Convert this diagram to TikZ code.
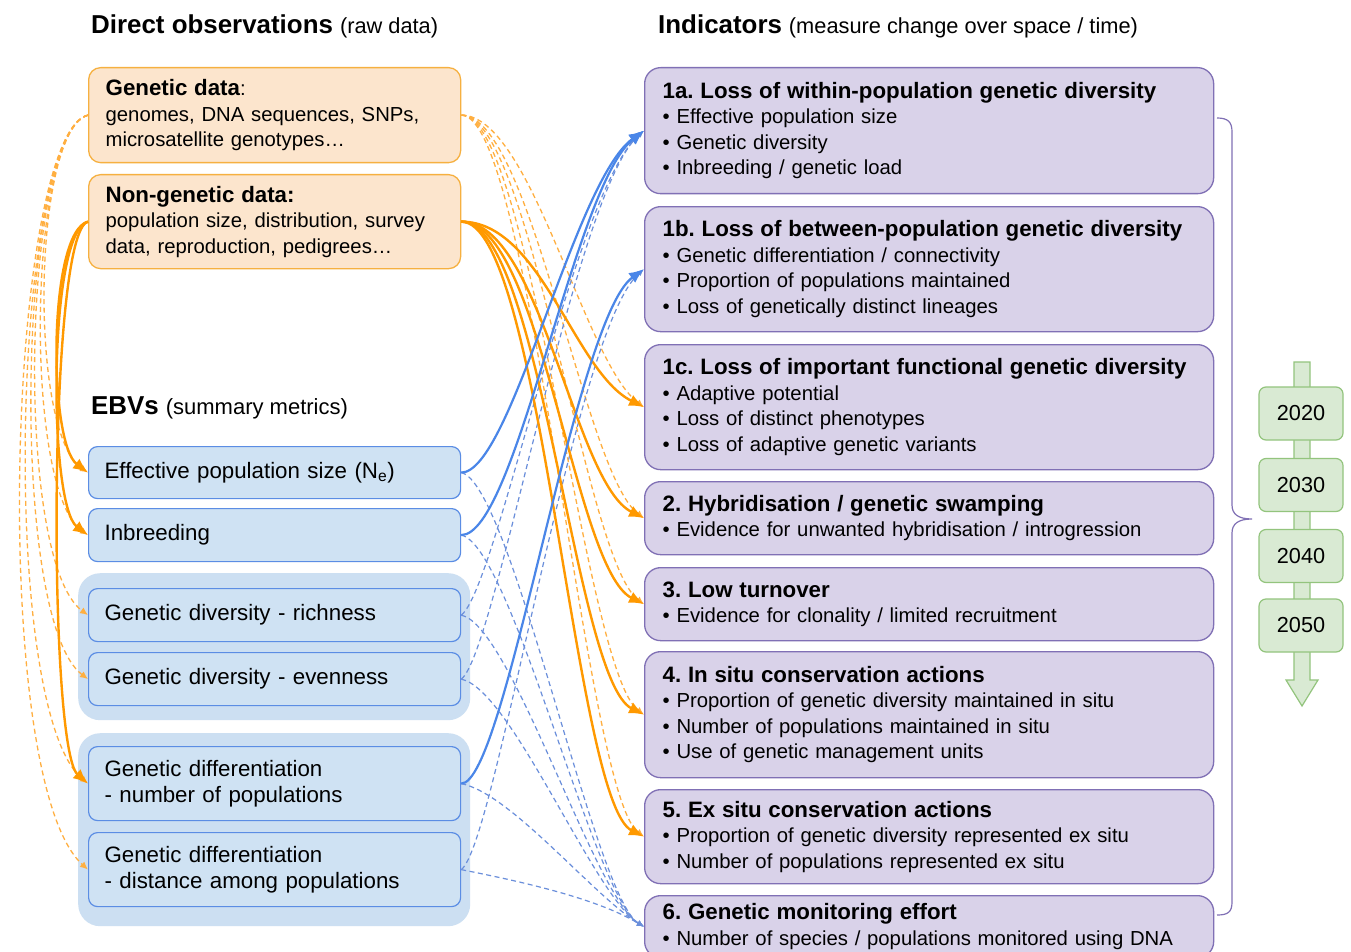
\documentclass[tikz,border=0pt]{standalone}
\usepackage{fontspec}
\setmainfont{Liberation Sans}
\usetikzlibrary{arrows.meta}
\definecolor{obsF}{HTML}{FCE5CD}
\definecolor{obsB}{HTML}{F6B040}
\definecolor{ebvF}{HTML}{CFE2F3}
\definecolor{ebvB}{HTML}{5B8DE4}
\definecolor{grpF}{HTML}{CCDFF2}
\definecolor{indF}{HTML}{D9D2E9}
\definecolor{indB}{HTML}{8070B5}
\definecolor{tlF}{HTML}{D9EAD3}
\definecolor{tlB}{HTML}{93C47D}
\definecolor{oS}{HTML}{FF9900}
\definecolor{oD}{HTML}{FFAF40}
\definecolor{bS}{HTML}{4A86E8}
\definecolor{bD}{HTML}{6B8FDB}
\newcommand\hdA[1]{{\fontsize{22.3}{25.5}\selectfont\bfseries\mbox{#1}}}
\frenchspacing
\tikzset{
 base/.style={inner ysep=0pt, anchor=north west, align=left},
 obsbox/.style={base, draw=obsB, fill=obsF, line width=1.3pt, rounded corners=12pt, minimum width=372pt, text width=338pt, inner xsep=17pt, font=\fontsize{20.3}{25.5}\selectfont},
 ebvbox/.style={base, draw=ebvB, fill=ebvF, line width=1.2pt, rounded corners=9pt, minimum width=372pt, text width=340pt, inner xsep=16pt, font=\fontsize{22.3}{26}\selectfont},
 grp/.style={anchor=north west, fill=grpF, rounded corners=22pt, inner sep=0pt, minimum width=392pt},
 indbox/.style={base, draw=indB, fill=indF, line width=1.3pt, rounded corners=16pt, minimum width=569pt, text width=533pt, inner xsep=18pt, font=\fontsize{20.3}{25.5}\selectfont},
 yearbox/.style={draw=tlB, fill=tlF, line width=1.2pt, rounded corners=7pt, minimum width=84pt, minimum height=53pt, font=\fontsize{21.7}{26}\selectfont, inner sep=0pt},
 ttl/.style={anchor=base west, inner sep=0pt},
 osolid/.style={draw=oS, line width=2.4pt, -{Latex[length=15pt,width=12pt]}},
 odash/.style={draw=oD, line width=1.3pt, dash pattern=on 5pt off 3.5pt, -{Latex[length=8pt,width=7pt]}},
 bsolid/.style={draw=bS, line width=2.2pt, -{Latex[length=15pt,width=12pt]}},
 bdash/.style={draw=bD, line width=1.2pt, dash pattern=on 5pt off 3.5pt, -{Latex[length=7pt,width=6pt]}},
}
\begin{document}
\begin{tikzpicture}[x=1pt,y=-1pt]
\fill[white] (0,0) rectangle (1351,952);
\useasboundingbox (0,0) rectangle (1351,952);

% titles
\node[ttl] (t1) at (91,34) {{\fontsize{25.9}{30}\selectfont\bfseries Direct observations}\hspace{7pt}{\fontsize{21.8}{26}\selectfont(raw data)}};
\node[ttl] (t2) at (91,414) {{\fontsize{25.9}{30}\selectfont\bfseries EBVs}\hspace{7pt}{\fontsize{22}{26}\selectfont(summary metrics)}};
\node[ttl] (t3) at (658,34) {{\fontsize{25.9}{30}\selectfont\bfseries Indicators}\hspace{7pt}{\fontsize{21.8}{26}\selectfont(measure change over space / time)}};

% observations
\node[obsbox, minimum height=95pt] (gd) at (88,67) {\hdA{Genetic data}:\\genomes, DNA sequences, SNPs,\\microsatellite genotypes…};
\node[obsbox, minimum height=94pt] (ng) at (88,174) {\hdA{Non-genetic data:}\\population size, distribution, survey\\data, reproduction, pedigrees…};

% EBV groups
\node[grp, minimum height=147pt] (g1) at (78,573) {};
\node[grp, minimum height=193pt] (g2) at (78,733) {};

% EBVs
\node[ebvbox, minimum height=52pt] (ne) at (88,446) {Effective population size (N\textsubscript{e})};
\node[ebvbox, minimum height=53pt] (inb) at (88,508) {Inbreeding};
\node[ebvbox, minimum height=53pt] (rich) at (88,588) {Genetic diversity - richness};
\node[ebvbox, minimum height=53pt] (even) at (88,652) {Genetic diversity - evenness};
\node[ebvbox, minimum height=74pt] (dnum) at (88,746) {Genetic differentiation\\- number of populations};
\node[ebvbox, minimum height=74pt] (ddist) at (88,832) {Genetic differentiation\\- distance among populations};

% indicators
\node[indbox, minimum height=126pt] (i1a) at (644,67) {\hdA{1a. Loss of within-population genetic diversity}\\• Effective population size\\• Genetic diversity\\• Inbreeding / genetic load};
\node[indbox, minimum height=125pt] (i1b) at (644,206) {\hdA{1b. Loss of between-population genetic diversity}\\• Genetic differentiation / connectivity\\• Proportion of populations maintained\\• Loss of genetically distinct lineages};
\node[indbox, minimum height=125pt] (i1c) at (644,344) {\hdA{1c. Loss of important functional genetic diversity}\\• Adaptive potential\\• Loss of distinct phenotypes\\• Loss of adaptive genetic variants};
\node[indbox, minimum height=73pt] (i2) at (644,481) {\hdA{2. Hybridisation / genetic swamping}\\• Evidence for unwanted hybridisation / introgression};
\node[indbox, minimum height=73pt] (i3) at (644,567) {\hdA{3. Low turnover}\\• Evidence for clonality / limited recruitment};
\node[indbox, minimum height=126pt] (i4) at (644,651) {\hdA{4. In situ conservation actions}\\• Proportion of genetic diversity maintained in situ\\• Number of populations maintained in situ\\• Use of genetic management units};
\node[indbox, minimum height=94pt] (i5) at (644,789) {\hdA{5. Ex situ conservation actions}\\• Proportion of genetic diversity represented ex situ\\• Number of populations represented ex situ};
\node[indbox, minimum height=62pt] (i6) at (644,895) {\hdA{6. Genetic monitoring effort}\\• Number of species / populations monitored using DNA};

% brace
\draw[indB, line width=1.2pt] (1217,118) .. controls (1228,118) and (1232,122) .. (1232,132) -- (1232,505) .. controls (1232,514) and (1238,519) .. (1252,519) .. controls (1238,519) and (1232,524) .. (1232,533) -- (1232,902) .. controls (1232,912) and (1228,915) .. (1217,915);

% timeline
\draw[tlB, fill=tlF, line width=1.2pt] (1294,362) -- (1310,362) -- (1310,680) -- (1318,680) -- (1302,706) -- (1286,680) -- (1294,680) -- cycle;
\node[yearbox] (y1) at (1301,413.5) {2020};
\node[yearbox] (y2) at (1301,485) {2030};
\node[yearbox] (y3) at (1301,556) {2040};
\node[yearbox] (y4) at (1301,625.5) {2050};

% orange dashed: genetic data
\draw[odash] (gd.west) .. controls +(-55,15) and +(-60,-40) .. (ne.west);
\draw[odash] (gd.west) .. controls +(-60,15) and +(-65,-45) .. (inb.west);
\draw[odash] (gd.west) .. controls +(-65,15) and +(-75,-55) .. (rich.west);
\draw[odash] (gd.west) .. controls +(-70,15) and +(-80,-60) .. (even.west);
\draw[odash] (gd.west) .. controls +(-75,20) and +(-90,-75) .. (dnum.west);
\draw[odash] (gd.west) .. controls +(-80,20) and +(-100,-90) .. (ddist.west);
\foreach \t in {i1c,i2,i3,i4,i5}
  \draw[odash] (gd.east) .. controls +(70,0) and +(-60,-45) .. (\t.west);

% blue dashed
\draw[bdash] (rich.east) .. controls +(35,-25) and +(-70,60) .. (i1a.west);
\draw[bdash] (even.east) .. controls +(35,-25) and +(-70,60) .. (i1a.west);
\draw[bdash] (ddist.east) .. controls +(35,-25) and +(-70,60) .. (i1b.west);
\foreach \s in {ne,inb,rich,even,dnum,ddist}
  \draw[bdash] (\s.east) .. controls +(50,10) and +(-50,-30) .. (i6.west);

% orange solid: non-genetic data
\draw[osolid] (ng.west) .. controls +(-40,10) and +(-40,-30) .. (ne.west);
\draw[osolid] (ng.west) .. controls +(-40,10) and +(-40,-30) .. (inb.west);
\draw[osolid] (ng.west) .. controls +(-40,10) and +(-40,-35) .. (dnum.west);
\foreach \t in {i1c,i2,i3,i4,i5}
  \draw[osolid] (ng.east) .. controls +(80,0) and +(-70,-35) .. (\t.west);

% blue solid
\draw[bsolid] (ne.east) .. controls +(50,0) and +(-70,50) .. (i1a.west);
\draw[bsolid] (inb.east) .. controls +(55,0) and +(-70,55) .. (i1a.west);
\draw[bsolid] (dnum.east) .. controls +(45,0) and +(-70,50) .. (i1b.west);
\end{tikzpicture}
\end{document}
